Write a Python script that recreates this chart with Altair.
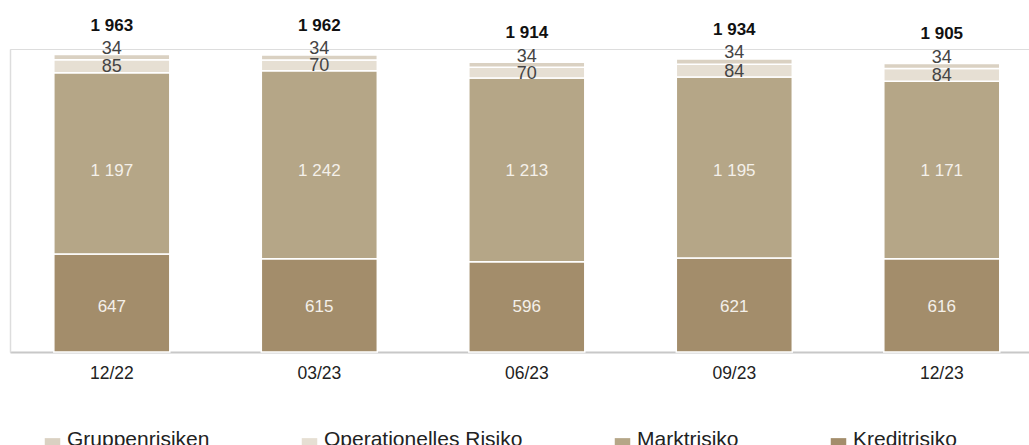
import altair as alt
import pandas as pd

periods = ["12/22", "03/23", "06/23", "09/23", "12/23"]
series = ["Gruppenrisiken", "Operationelles Risiko", "Marktrisiko", "Kreditrisiko"]
colors = ["#dad1c2", "#e6dfd3", "#b5a687", "#a38d6b"]
stack_order = {"Kreditrisiko": 0, "Marktrisiko": 1, "Operationelles Risiko": 2, "Gruppenrisiken": 3}

kredit = [647, 615, 596, 621, 616]
markt = [1197, 1242, 1213, 1195, 1171]
operationell = [85, 70, 70, 84, 84]
gruppen = [34, 34, 34, 34, 34]
totals = [1963, 1962, 1914, 1934, 1905]

def fmt(v):
    return f"{v:,}".replace(",", " ")

rows = []
for i, p in enumerate(periods):
    for name, vals in [("Kreditrisiko", kredit), ("Marktrisiko", markt),
                       ("Operationelles Risiko", operationell), ("Gruppenrisiken", gruppen)]:
        rows.append({"period": p, "series": name, "value": vals[i],
                     "ord": stack_order[name], "label": fmt(vals[i])})
df = pd.DataFrame(rows)
tot = pd.DataFrame({"period": periods, "total": totals, "label": [fmt(t) for t in totals]})

FONT = "Liberation Sans"

x_enc = alt.X("period:N", sort=periods, title=None,
              scale=alt.Scale(paddingInner=0.441, paddingOuter=0.176, align=0.6),
              axis=alt.Axis(labelAngle=0, ticks=False, labelFontSize=17.5, labelColor="#222222",
                            labelFont=FONT, labelPadding=12, domainColor="#c8c8c8",
                            domainWidth=2, grid=False))
y_scale = alt.Scale(domain=[0, 2000], nice=False)
x_plain = alt.X("period:N", sort=periods)

base = alt.Chart(df).transform_stack(
    stack="value", groupby=["period"], sort=[alt.SortField("ord", order="ascending")],
    as_=["y0", "y1"]
).transform_calculate(mid="(datum.y0 + datum.y1) / 2")

bars = base.mark_bar(stroke="white", strokeWidth=1.5).encode(
    x=x_enc,
    y=alt.Y("y0:Q", scale=y_scale, title=None,
            axis=alt.Axis(labels=False, ticks=False, grid=False, domainColor="#dddddd",
                          domainWidth=1.5, title=None)),
    y2="y1:Q",
    color=alt.Color("series:N", scale=alt.Scale(domain=series, range=colors),
                    legend=alt.Legend(title=None, orient="none", legendX=32, legendY=386,
                                      direction="horizontal", columns=4, columnPadding=89,
                                      symbolType="square", symbolSize=240, symbolStrokeWidth=0,
                                      labelFontSize=21, labelFont=FONT, labelColor="#222222",
                                      labelBaseline="alphabetic",
                                      labelOffset=4, padding=0, symbolOffset=0, labelLimit=400)),
)

inner = base.transform_filter(
    "datum.series == 'Kreditrisiko' || datum.series == 'Marktrisiko'"
).transform_joinaggregate(
    lo="min(y0)", hi="min(y1)", groupby=["series"]
).transform_calculate(
    lpos="(datum.lo + datum.hi) / 2"
).mark_text(fontSize=17, font=FONT, color="#f4f0ea", baseline="middle").encode(
    x=x_plain, y=alt.Y("lpos:Q", scale=y_scale), text="label:N")

op_lbl = base.transform_filter("datum.series == 'Operationelles Risiko'").mark_text(
    fontSize=18, font=FONT, color="#444444", baseline="middle", dy=1).encode(
    x=x_plain, y=alt.Y("mid:Q", scale=y_scale), text="label:N")

gr_lbl = base.transform_filter("datum.series == 'Gruppenrisiken'").mark_text(
    fontSize=18, font=FONT, color="#444444", baseline="alphabetic", dy=-0.5).encode(
    x=x_plain, y=alt.Y("y1:Q", scale=y_scale), text="label:N")

tot_lbl = alt.Chart(tot).mark_text(fontSize=17, font=FONT, fontWeight="bold", color="#111111",
                                   baseline="alphabetic", dy=-24).encode(
    x=x_plain, y=alt.Y("total:Q", scale=y_scale), text="label:N")

chart = alt.layer(bars, inner, op_lbl, gr_lbl, tot_lbl).properties(
    width=1019, height=303,
    autosize=alt.AutoSizeParams(type="none"),
    padding={"left": 10, "top": 49, "right": 0, "bottom": 100},
).configure_view(stroke=None).configure(background="white")

chart.save("out.html", embed_options={"renderer": "svg", "actions": False})
